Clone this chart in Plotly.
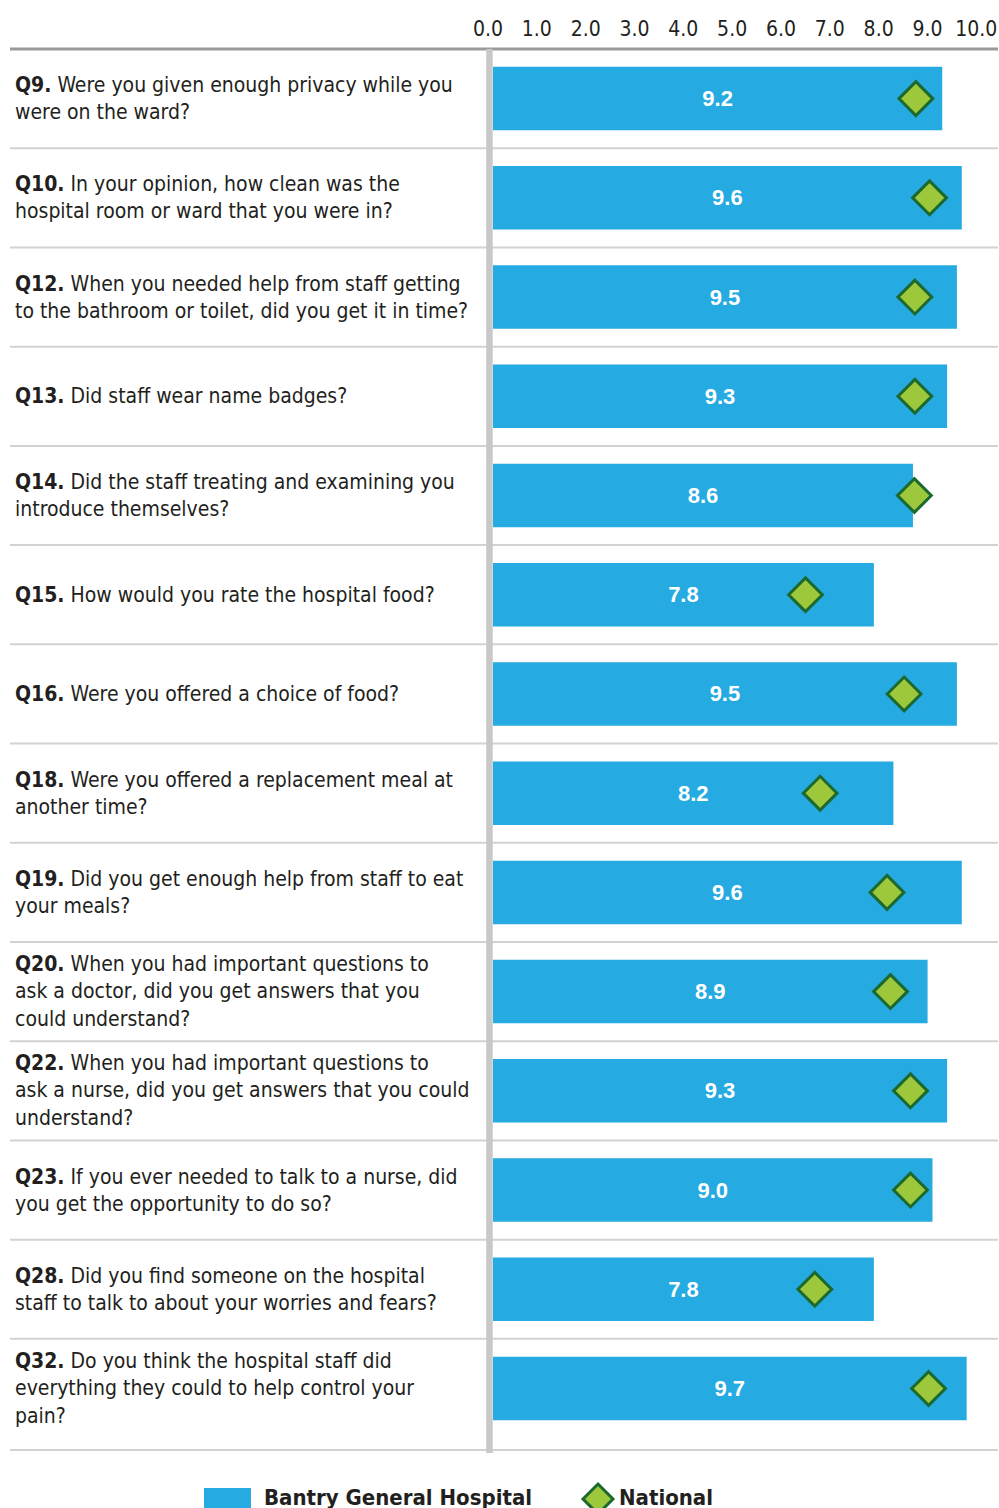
import plotly.graph_objects as go

# ── Data ─────────────────────────────────────────────────────────────────────
question_ids = ["Q9", "Q10", "Q12", "Q13", "Q14", "Q15", "Q16",
                "Q18", "Q19", "Q20", "Q22", "Q23", "Q28", "Q32"]
question_texts = [
    "Were you given enough privacy while you<br>were on the ward?",
    "In your opinion, how clean was the<br>hospital room or ward that you were in?",
    "When you needed help from staff getting<br>to the bathroom or toilet, did you get it in time?",
    "Did staff wear name badges?",
    "Did the staff treating and examining you<br>introduce themselves?",
    "How would you rate the hospital food?",
    "Were you offered a choice of food?",
    "Were you offered a replacement meal at<br>another time?",
    "Did you get enough help from staff to eat<br>your meals?",
    "When you had important questions to<br>ask a doctor, did you get answers that you<br>could understand?",
    "When you had important questions to<br>ask a nurse, did you get answers that you could<br>understand?",
    "If you ever needed to talk to a nurse, did<br>you get the opportunity to do so?",
    "Did you find someone on the hospital<br>staff to talk to about your worries and fears?",
    "Do you think the hospital staff did<br>everything they could to help control your<br>pain?",
]
hospital_scores = [9.2, 9.6, 9.5, 9.3, 8.6, 7.8, 9.5, 8.2, 9.6, 8.9, 9.3, 9.0, 7.8, 9.7]
national_scores = [8.66, 8.94, 8.64, 8.64, 8.63, 6.40, 8.42, 6.70, 8.07, 8.14,
                   8.55, 8.55, 6.59, 8.92]
tick_values = [0, 1, 2, 3, 4, 5, 6, 7, 8, 9, 10]
tick_labels = ["0.0", "1.0", "2.0", "3.0", "4.0", "5.0", "6.0", "7.0", "8.0", "9.0", "10.0"]

# ── Style ────────────────────────────────────────────────────────────────────
BAR_COLOR = "#25aae1"
DIAMOND_FILL = "#9dc83c"
DIAMOND_LINE = "#1b692f"
TEXT_COLOR = "#231f20"
RULE_COLOR = "#d2d2d2"
NARROW = "Liberation Sans Narrow, Arial Narrow, DejaVu Sans Condensed, Roboto, sans-serif"
WIDE = "Liberation Sans, Arial, Roboto, sans-serif"

W, H = 999, 1508
M = dict(l=10, r=1, t=49, b=58)


def px(x):
    """Pixel x -> paper x."""
    return (x - M["l"]) / (W - M["l"] - M["r"])


def py(y):
    """Pixel y -> paper y."""
    return (H - M["b"] - y) / (H - M["t"] - M["b"])


fig = go.Figure()

fig.add_trace(go.Bar(
    x=hospital_scores,
    y=question_ids,
    orientation="h",
    width=0.64,
    marker=dict(color=BAR_COLOR, line=dict(width=0)),
    text=[f"{v:.1f}" for v in hospital_scores],
    textposition="inside",
    insidetextanchor="middle",
    textfont=dict(family=WIDE, size=22, color="white", weight="bold"),
    name="Bantry General Hospital",
    showlegend=False,
))

fig.add_trace(go.Scatter(
    x=national_scores,
    y=question_ids,
    mode="markers",
    marker=dict(symbol="diamond", size=26, color=DIAMOND_FILL,
                line=dict(color=DIAMOND_LINE, width=3)),
    name="National",
    showlegend=False,
))

# row separators, top rule and the zero line
shapes = []
for k in range(len(question_ids) - 1):
    shapes.append(dict(type="line", xref="paper", yref="y", x0=0, x1=1,
                       y0=k + 0.5, y1=k + 0.5,
                       line=dict(color=RULE_COLOR, width=2)))
shapes.append(dict(type="line", xref="paper", yref="paper", x0=0, x1=1,
                   y0=0, y1=0, line=dict(color=RULE_COLOR, width=2)))
shapes.append(dict(type="line", xref="paper", yref="paper", x0=0, x1=1,
                   y0=1, y1=1, line=dict(color="#9a9a9a", width=3)))
shapes.append(dict(type="line", xref="x", yref="paper", x0=-0.072, x1=-0.072,
                   y0=py(1453), y1=1, line=dict(color="#c8c8c8", width=6.5)))

# legend drawn by hand (large swatches)
shapes.append(dict(type="rect", xref="paper", yref="paper",
                   x0=px(204), x1=px(251), y0=py(1515), y1=py(1488),
                   fillcolor=BAR_COLOR, line=dict(width=0)))
cx, cy, r = 598, 1499, 15
diamond = (f"M {px(cx - r)},{py(cy)} L {px(cx)},{py(cy - r)} "
           f"L {px(cx + r)},{py(cy)} L {px(cx)},{py(cy + r)} Z")
shapes.append(dict(type="path", xref="paper", yref="paper", path=diamond,
                   fillcolor=DIAMOND_FILL, line=dict(color=DIAMOND_LINE, width=3)))

annotations = []
for i, (qid, text) in enumerate(zip(question_ids, question_texts)):
    annotations.append(dict(
        xref="paper", yref="y", x=0, y=i, xanchor="left", yanchor="middle",
        xshift=3, align="left", showarrow=False,
        text=f"<b>{qid}.</b> {text}",
        font=dict(family=NARROW, size=21, color=TEXT_COLOR),
    ))
annotations.append(dict(xref="paper", yref="paper", x=px(262), y=py(1497),
                        xanchor="left", yanchor="middle", showarrow=False,
                        text="<b>Bantry General Hospital</b>",
                        font=dict(family=NARROW, size=22, color=TEXT_COLOR)))
annotations.append(dict(xref="paper", yref="paper", x=px(617), y=py(1497),
                        xanchor="left", yanchor="middle", showarrow=False,
                        text="<b>National</b>",
                        font=dict(family=NARROW, size=22, color=TEXT_COLOR)))

fig.update_layout(
    width=W,
    height=H,
    margin=M,
    plot_bgcolor="white",
    paper_bgcolor="white",
    showlegend=False,
    shapes=shapes,
    annotations=annotations,
    xaxis=dict(
        side="top",
        range=[-9.891, 10.342],
        tickvals=tick_values,
        ticktext=tick_labels,
        ticks="",
        ticklabelshift=-5,
        ticklabelstandoff=8,
        tickfont=dict(family=NARROW, size=21, color=TEXT_COLOR),
        showgrid=False,
        zeroline=False,
        showline=False,
    ),
    yaxis=dict(
        type="category",
        categoryorder="array",
        categoryarray=question_ids,
        range=[13.62, -0.5],
        showticklabels=False,
        showgrid=False,
        zeroline=False,
        showline=False,
    ),
)

# drop the browser's default body margin so the figure sits at the page corner
fig.write_html("out.html", config={"displayModeBar": False},
               post_script="document.body.style.margin = '0';")
